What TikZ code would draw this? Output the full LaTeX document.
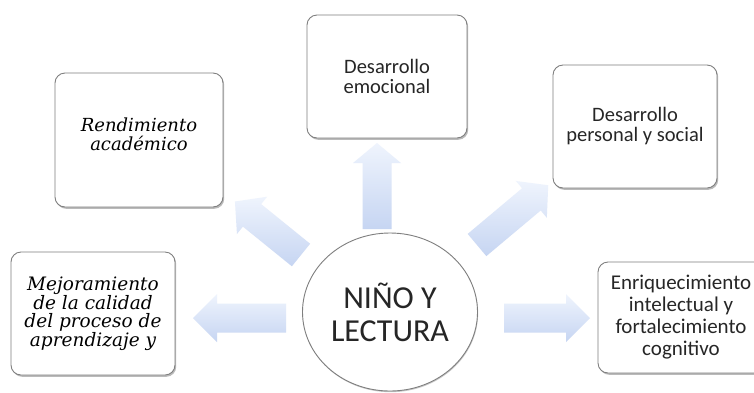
\documentclass[tikz,border=0pt]{standalone}
\usepackage{fontspec}
\setmainfont{Carlito}
\newfontfamily\slabit{DejaVu Serif}
\usetikzlibrary{shapes.geometric,shadows}
\definecolor{arrlight}{HTML}{EFF4FD}
\definecolor{arrdark}{HTML}{C6D5F2}
\definecolor{boxline}{HTML}{7F7F7F}
\tikzset{
  box/.style={draw=boxline, line width=0.9pt, fill=white, rounded corners=10pt,
    align=center, inner sep=1pt,
    drop shadow={shadow xshift=1.2pt, shadow yshift=-1.8pt, opacity=0.45, fill=black!60}},
  calitext/.style={font=\fontsize{20.5}{20}\selectfont, text=black!85},
  blockarrow/.style={top color=arrlight, bottom color=arrdark, draw=none},
}
% #1 tail x, #2 tail y, #3 angle, #4 length, #5 head length
\newcommand{\blockarr}[5]{%
  \begin{scope}[shift={(#1,#2)}, rotate=#3]
    \shade[blockarrow] (0,-14.5) -- ({#4-#5},-14.5) -- ({#4-#5},-24) -- (#4,0)
      -- ({#4-#5},24) -- ({#4-#5},14.5) -- (0,14.5) -- cycle;
  \end{scope}}
\begin{document}
\begin{tikzpicture}[x=1pt,y=-1pt]
\useasboundingbox (0,0) rectangle (754,392);
\fill[white] (0,0) rectangle (754,392);

% boxes
\node[box, minimum width=164pt, minimum height=123pt,
  font=\slabit\itshape\fontsize{18.5}{17.5}\selectfont] (mej) at (93,313.5)
  {Mejoramiento\\de la calidad\\del proceso de\\aprendizaje y};
\node[box, minimum width=168pt, minimum height=134pt,
  font=\slabit\itshape\fontsize{18}{19}\selectfont] (ren) at (139,140) {};
\node[align=center, inner sep=0pt,
  font=\slabit\itshape\fontsize{18}{19}\selectfont] (rentext) at (139,134)
  {Rendimiento\\académico};
\node[box, minimum width=160pt, minimum height=123pt, calitext] (emo) at (387,76.5)
  {Desarrollo\\emocional};
\node[box, minimum width=164pt, minimum height=123pt, calitext] (per) at (635,126.5)
  {Desarrollo\\personal y social};
\node[box, minimum width=166pt, minimum height=111pt, calitext,
  font=\fontsize{21}{22}\selectfont] (enr) at (681,317.5)
  {Enriquecimiento\\intelectual y\\fortalecimiento\\cognitivo};

% center
\node[ellipse, draw=boxline, line width=0.9pt, fill=white, minimum width=175pt,
  minimum height=158pt, inner sep=0pt, align=center, text=black!85,
  font=\fontsize{32}{33}\selectfont,
  drop shadow={shadow xshift=0.6pt, shadow yshift=-1.2pt, opacity=0.35, fill=black!60}]
  (cen) at (390,312) {NIÑO Y\\LECTURA};

% block arrows
\blockarr{377}{229}{90}{86}{20}
\blockarr{301}{255}{141}{85}{22}
\blockarr{477}{245}{40}{93}{22}
\blockarr{286}{318}{180}{93}{24}
\blockarr{504}{318}{0}{86}{24}
\end{tikzpicture}
\end{document}
